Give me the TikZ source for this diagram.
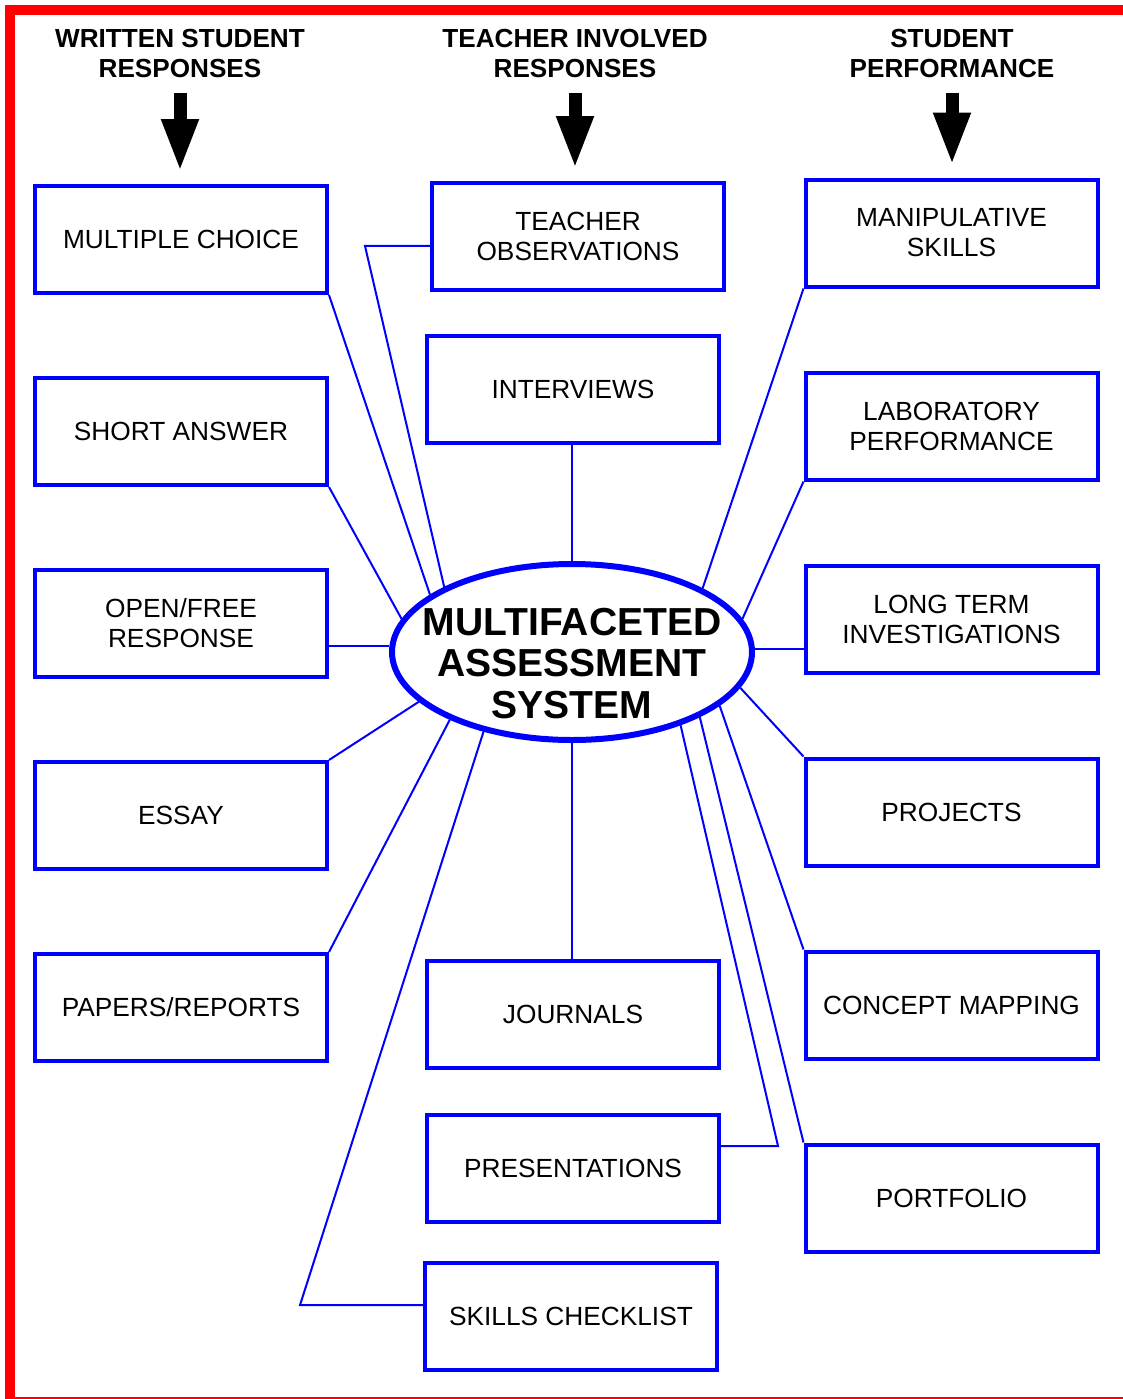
\documentclass[tikz,border=0pt]{standalone}
\usepackage{fontspec}
\setmainfont{Liberation Sans}
\usetikzlibrary{arrows.meta,positioning,shapes.geometric}
\definecolor{azul}{RGB}{0,0,255}
\definecolor{rojo}{RGB}{255,0,0}

\begin{document}
\begin{tikzpicture}[x=0.75pt,y=-0.75pt,
box/.style={draw=azul,line width=3pt,minimum width=219pt,minimum height=80.25pt,align=center,inner sep=2pt,font=\fontsize{19.7}{22.5}\selectfont},
hdr/.style={align=center,inner sep=0pt,font=\fontsize{19.6}{22.5}\selectfont\bfseries},
hub/.style={draw=azul,ellipse,line width=4.5pt,minimum width=270pt,minimum height=132pt,inner sep=0pt},
link/.style={draw=azul,line width=1.5pt},
bigarr/.style={line width=9.75pt,-{Triangle[length=39.75pt,width=25.5pt]},shorten <=10.5pt,shorten >=9pt}
]
\useasboundingbox (0,0) rectangle (1123,1399);
\draw[rojo,line width=7.5pt] (10,10) rectangle (1135,1402);

% column heads
\node[hdr] (hw) at (180,54) {WRITTEN STUDENT\\RESPONSES};
\node[hdr] (ht) at (575,54) {TEACHER INVOLVED\\RESPONSES};
\node[hdr] (hs) at (952,54) {STUDENT\\PERFORMANCE};

% written responses
\node[box] (mc) at (181,239.5) {MULTIPLE CHOICE};
\node[box,below=60.75pt of mc] (sa) {SHORT ANSWER};
\node[box,below=60.75pt of sa] (of) {OPEN/FREE\\RESPONSE};
\node[box,below=60.75pt of of] (es) {ESSAY};
\node[box,below=60.75pt of es] (pr) {PAPERS/REPORTS};

% teacher involved
\node[box] (to) at (578,236.5) {TEACHER\\OBSERVATIONS};
\node[box] (in) at (573,389.5) {INTERVIEWS};
\node[box] (jo) at (573,1014.5) {JOURNALS};
\node[box] (pre) at (573,1168) {PRESENTATIONS};
\node[box] (sk) at (571,1316.5) {SKILLS CHECKLIST};

% performance
\node[box] (ma) at (951.5,233) {MANIPULATIVE\\SKILLS};
\node[box,below=61.5pt of ma] (lb) {LABORATORY\\PERFORMANCE};
\node[box,below=61.5pt of lb] (lt) {LONG TERM\\INVESTIGATIONS};
\node[box,below=61.5pt of lt] (pj) {PROJECTS};
\node[box,below=61.5pt of pj] (cm) {CONCEPT MAPPING};
\node[box,below=61.5pt of cm] (po) {PORTFOLIO};

% hub
\node[hub] (sys) at (572,652) {};
\node[align=center,inner sep=0pt,font=\fontsize{29.3}{31}\selectfont\bfseries] (title) at (572,663.5) {MULTIFACETED\\ASSESSMENT\\SYSTEM};

\draw[bigarr] (hw.south) -- (hw.south |- mc.north);
\draw[bigarr] (ht.south) -- (ht.south |- to.north);
\draw[bigarr] (hs.south) -- (hs.south |- ma.north);

\foreach \b/\a in {mc.south east/158,sa.south east/169,es.north east/198,pr.north east/209,
  po.north west/333,cm.north west/340,pj.north west/348,lb.south west/11,ma.south west/26}
  \draw[link] (\b) -- (sys.\a);
\draw[link] (sys.178) -- (sys.178 -| of.east);
\draw[link] (sys.1) -- (sys.1 -| lt.west);
\draw[link] (sys.north) -- (sys.north |- in.south);
\draw[link] (sys.south) -- (sys.south |- jo.north);
\draw[link] ([yshift=-7.1pt]to.west) -- ++(-65,0) -- (sys.153);
\draw[link] ([yshift=8.6pt]sk.west) -- ++(-123,0) -- (sys.222);
\draw[link] ([yshift=16.5pt]pre.east) -- ++(57,0) -- (sys.326);
\end{tikzpicture}
\end{document}
